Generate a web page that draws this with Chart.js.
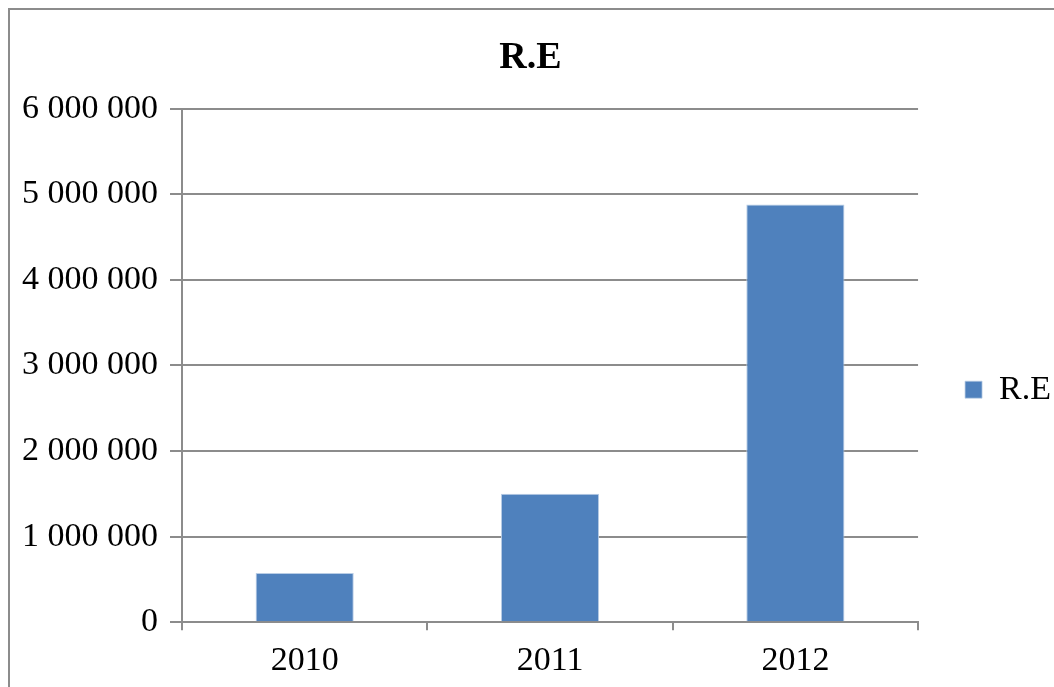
<!DOCTYPE html>
<html>
<head>
<meta charset="utf-8">
<script src="https://cdn.jsdelivr.net/npm/chart.js@4.4.1/dist/chart.umd.min.js"></script>
<style>
  body { margin:0; background:#fff; }
  #wrap { position:relative; width:1054px; height:687px; overflow:hidden; }
  #frame { position:absolute; left:8px; top:8px; width:1100px; height:700px; border:2px solid #8c8c8c; box-sizing:border-box; }
  canvas { position:absolute; left:0; top:0; }
</style>
</head>
<body>
<div id="wrap">
  <div id="frame"></div>
  <canvas id="reChart" width="1054" height="687"></canvas>
</div>
<script>
// data
var years = ["2010", "2011", "2012"];
var reValues = [575000, 1500000, 4880000];
var seriesName = "R.E";
var yTicks = [0, 1000000, 2000000, 3000000, 4000000, 5000000, 6000000];

function spaced(v){
  return String(v).replace(/\B(?=(\d{3})+(?!\d))/g, " ");
}

var serif = "'Liberation Serif', 'Times New Roman', serif";
var gridColor = "#8c8c8c";

var ctx = document.getElementById("reChart");
var reChart = new Chart(ctx, {
  type: 'bar',
  data: {
    labels: years,
    datasets: [{
      label: seriesName,
      data: reValues,
      backgroundColor: "#4F81BD",
      borderColor: "#b9cde5",
      borderWidth: {top:1, left:1, right:1, bottom:0},
      categoryPercentage: 0.4,
      barPercentage: 1.0
    }]
  },
  options: {
    responsive: false,
    animation: false,
    devicePixelRatio: 1,
    layout: { padding: { left: 0, right: -7, top: 20, bottom: -4 } },
    plugins: {
      title: {
        display: true,
        text: seriesName,
        color: "#000",
        font: { family: serif, size: 38, weight: 'bold' },
        padding: { top: 15, bottom: 28 }
      },
      legend: {
        position: 'right',
        // empty legend title just pushes the item down a bit
        title: {
          display: true,
          text: ' ',
          font: { size: 2 },
          padding: { top: 0, bottom: 66 }
        },
        labels: {
          color: "#000",
          font: { family: serif, size: 34 },
          boxWidth: 17,
          boxHeight: 17,
          padding: 47
        }
      },
      tooltip: { enabled: false }
    },
    scales: {
      x: {
        offset: true,
        grid: {
          offset: true,
          drawOnChartArea: false,
          color: gridColor,
          lineWidth: 2,
          tickLength: 8
        },
        border: { color: gridColor, width: 2 },
        ticks: { color: "#000", font: { family: serif, size: 34 }, padding: 10 }
      },
      y: {
        min: 0,
        max: 6000000,
        afterBuildTicks: function(scale){
          scale.ticks = yTicks.map(function(v){ return { value: v }; });
        },
        afterFit: function(scale){ scale.width = 182; },
        grid: {
          color: gridColor,
          lineWidth: 2,
          tickLength: 12
        },
        border: { color: gridColor, width: 2 },
        ticks: {
          color: "#000",
          font: { family: serif, size: 34 },
          padding: 12,
          callback: function(v){ return spaced(v); }
        }
      }
    }
  }
});
</script>
</body>
</html>
